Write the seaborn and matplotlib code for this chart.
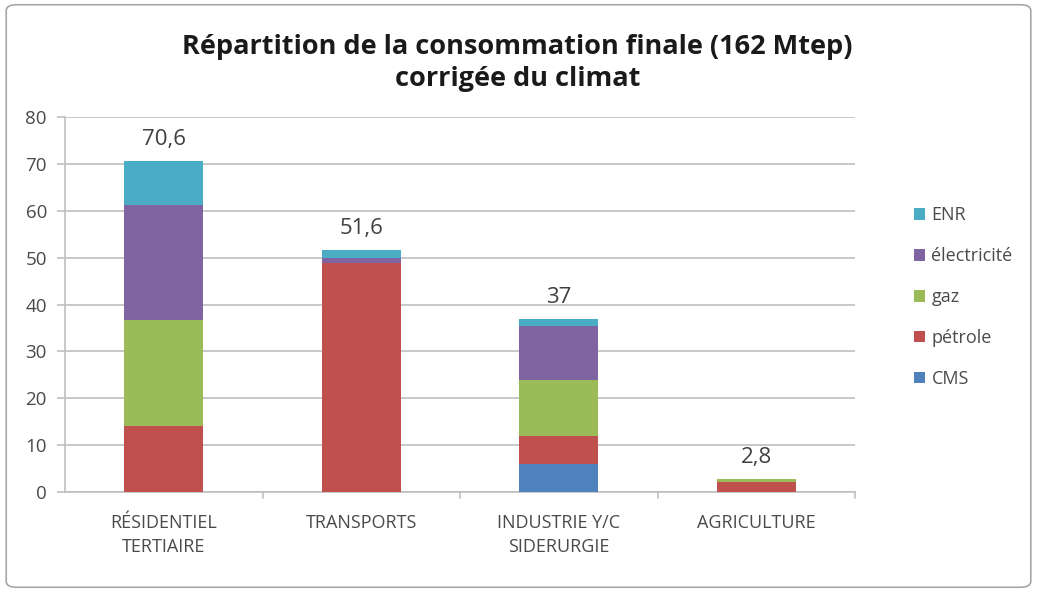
import matplotlib
matplotlib.use("Agg")
import matplotlib.pyplot as plt
from matplotlib.patches import FancyBboxPatch, Patch
import seaborn as sns
import pandas as pd
import numpy as np

# data (Mtep)
categories = ["RÉSIDENTIEL\nTERTIAIRE", "TRANSPORTS", "INDUSTRIE Y/C\nSIDERURGIE", "AGRICULTURE"]
cms = [0.0, 0.0, 6.0, 0.0]
petrole = [14.1, 48.9, 5.9, 2.2]
gaz = [22.7, 0.0, 12.1, 0.6]
electricite = [24.5, 1.1, 11.5, 0.0]
enr = [9.3, 1.6, 1.5, 0.0]
totals = ["70,6", "51,6", "37", "2,8"]

series = ["CMS", "pétrole", "gaz", "électricité", "ENR"]
colors = {
    "CMS": "#4F81BD",
    "pétrole": "#C0504D",
    "gaz": "#9BBB59",
    "électricité": "#8064A2",
    "ENR": "#4BACC6",
}

df = pd.DataFrame({"cat": categories, "CMS": cms, "pétrole": petrole, "gaz": gaz,
                   "électricité": electricite, "ENR": enr})
# cumulative tops, stacked bottom -> top
cum = df[series].cumsum(axis=1)
cum["cat"] = df["cat"]

sns.set_style("white")
plt.rcParams["font.family"] = ["Open Sans", "DejaVu Sans"]

fig = plt.figure(figsize=(10.37, 5.92), dpi=100)
ax = fig.add_axes([0.0627, 0.169, 0.7618, 0.633])

# draw from the top series down so each layer covers the one above
for s in reversed(series):
    sns.barplot(data=cum, x="cat", y=s, color=colors[s], width=0.4,
                saturation=1, ax=ax, order=categories, zorder=3, linewidth=0)

ax.set_ylim(0, 80)
ax.set_xlim(-0.5, 3.5)
ax.set_yticks(np.arange(0, 81, 10))
ax.yaxis.grid(True, color="#BFBFBF", linewidth=1.2, zorder=0)
ax.set_axisbelow(True)
ax.set_xlabel("")
ax.set_ylabel("")
for sp in ["top", "right"]:
    ax.spines[sp].set_visible(False)
for sp in ["left", "bottom"]:
    ax.spines[sp].set_color("#BFBFBF")
    ax.spines[sp].set_linewidth(1.2)

txt = "#4a4a4a"
ax.tick_params(axis="y", labelsize=13.5, labelcolor=txt, color="#BFBFBF",
               length=6, width=1.2, left=True, pad=7)
ax.set_xticks(range(len(categories)))
ax.set_xticklabels(categories, fontsize=13, color=txt, linespacing=1.45)
ax.tick_params(axis="x", length=0, pad=16)
# category boundary ticks like excel
for b in [0.5, 1.5, 2.5, 3.5]:
    ax.plot([b, b], [0, -1.3], color="#BFBFBF", lw=1.2, clip_on=False)

tot_vals = cum["ENR"].values
for i, t in enumerate(totals):
    ax.text(i, tot_vals[i] + 2.3, t, ha="center", va="bottom", fontsize=16, color="#404040")

fig.text(0.499, 0.893, "Répartition de la consommation finale (162 Mtep)\ncorrigée du climat",
         ha="center", va="center", fontsize=19.5, fontweight="bold", color="#1a1a1a",
         linespacing=1.3)

handles = [Patch(facecolor=colors[s], edgecolor="none") for s in reversed(series)]
fig.legend(handles, list(reversed(series)), loc="upper left", bbox_to_anchor=(0.866, 0.679),
           frameon=False, fontsize=13, labelcolor=txt, handlelength=0.6,
           handleheight=0.6, handletextpad=0.35, labelspacing=1.27)

border = FancyBboxPatch((0.006, 0.008), 0.988, 0.984, boxstyle="round,pad=0,rounding_size=0.01",
                        transform=fig.transFigure, facecolor="none", edgecolor="#A6A6A6",
                        linewidth=1.2)
fig.patches.append(border)

fig.savefig("out.png", dpi=100)
